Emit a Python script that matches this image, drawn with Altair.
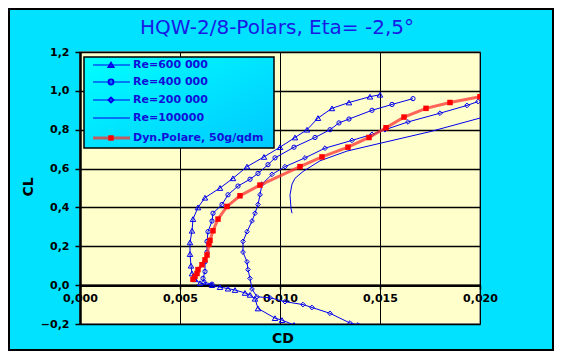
import altair as alt
import pandas as pd

# ---------------- data ----------------
re600_cd = [0.0150, 0.0145, 0.01345, 0.0126, 0.0119, 0.01135, 0.01075, 0.0100, 0.0092,
            0.00835, 0.00765, 0.0070, 0.00625, 0.0059, 0.00565, 0.0056, 0.0055, 0.0055,
            0.00555, 0.0056, 0.00575, 0.0060, 0.0066, 0.0070, 0.0074, 0.00775, 0.00825,
            0.0085, 0.00875, 0.0089, 0.00975, 0.0101, 0.0107]
re600_cl = [0.98, 0.97, 0.94, 0.91, 0.86, 0.80, 0.76, 0.71, 0.66,
            0.61, 0.55, 0.50, 0.45, 0.40, 0.34, 0.28, 0.22, 0.16,
            0.10, 0.06, 0.03, 0.01, 0.00, -0.01, -0.018, -0.025, -0.04,
            -0.05, -0.07, -0.12, -0.17, -0.18, -0.205]

re400_cd = [0.01665, 0.0156, 0.0146, 0.01345, 0.01295, 0.0125, 0.01175, 0.0107, 0.00975,
            0.0094, 0.0089, 0.0085, 0.0079, 0.0074, 0.0071, 0.00665, 0.0066, 0.0064,
            0.00635, 0.00635, 0.00625, 0.00625, 0.00615, 0.0062, 0.0066]
re400_cl = [0.96, 0.93, 0.90, 0.855, 0.835, 0.80, 0.76, 0.71, 0.655,
            0.62, 0.575, 0.545, 0.51, 0.465, 0.415, 0.37, 0.33, 0.275,
            0.225, 0.17, 0.12, 0.07, 0.035, 0.015, 0.005]

re200_cd = [0.0199, 0.01935, 0.0180, 0.0164, 0.01525, 0.0146, 0.0136, 0.01225, 0.01125,
            0.01025, 0.0096, 0.0091, 0.0090, 0.0089, 0.00875, 0.0086, 0.00835, 0.00815,
            0.00815, 0.00835, 0.0084, 0.0085, 0.0086, 0.00885, 0.0095, 0.01025, 0.01115,
            0.0116, 0.0125, 0.0135, 0.0139]
re200_cl = [0.945, 0.925, 0.885, 0.84, 0.80, 0.776, 0.745, 0.705, 0.655,
            0.61, 0.57, 0.52, 0.465, 0.415, 0.37, 0.33, 0.275, 0.225,
            0.17, 0.12, 0.08, 0.035, -0.02, -0.06, -0.065, -0.085, -0.10,
            -0.115, -0.145, -0.195, -0.205]

re100_cd = [0.0200, 0.0175, 0.0150, 0.01335, 0.0120, 0.01115, 0.01075, 0.0106, 0.0105,
            0.01055, 0.0106]
re100_cl = [0.86, 0.79, 0.73, 0.69, 0.64, 0.585, 0.55, 0.52, 0.465, 0.395, 0.37]

dyn_cd = [0.0200, 0.0185, 0.0173, 0.0162, 0.0153, 0.01445, 0.0134, 0.0121, 0.0110,
          0.0090, 0.0080, 0.00735, 0.0069, 0.00665, 0.0065, 0.00645, 0.00635, 0.00625,
          0.0061, 0.0059, 0.00585, 0.00575, 0.00565]
dyn_cl = [0.97, 0.94, 0.91, 0.865, 0.81, 0.76, 0.71, 0.66, 0.61,
          0.515, 0.46, 0.405, 0.34, 0.28, 0.23, 0.21, 0.155, 0.13,
          0.105, 0.08, 0.06, 0.045, 0.03]

legend_labels = ["Re=600 000", "Re=400 000", "Re=200 000", "Re=100000", "Dyn.Polare, 50g/qdm"]
x_ticks = [0.0, 0.005, 0.010, 0.015, 0.020]
y_ticks = [-0.2, 0.0, 0.2, 0.4, 0.6, 0.8, 1.0, 1.2]
x_range = [0.0, 0.02]
y_range = [-0.2, 1.2]
title_text = "HQW-2/8-Polars, Eta= -2,5°"

# ---------------- layout ----------------
W, H = 400, 272
PAD = {"left": 72, "top": 44, "right": 74, "bottom": 27}
FONT = "DejaVu Sans"
BLUE = "#0000EE"
RED = "#FF0000"

xs = alt.Scale(domain=x_range, nice=False, zero=False)
ys = alt.Scale(domain=y_range, nice=False, zero=False)

x_axis = alt.Axis(values=x_ticks, grid=True, gridColor="black", gridWidth=1, gridOpacity=1,
                  orient="bottom", offset=-(0.2 / 1.4) * H,
                  labelExpr="replace(format(datum.value, '.3f'), '.', ',')", labelFlush=False,
                  domainColor="black", domainWidth=2.5, tickColor="black", tickWidth=1.5, tickSize=4,
                  labelFont=FONT, labelFontWeight="bold", labelFontSize=11, labelColor="black",
                  labelPadding=3, title=None)
y_axis = alt.Axis(values=y_ticks, grid=True, gridColor="black", gridWidth=1.5, gridOpacity=1,
                  orient="left",
                  labelExpr="replace(format(datum.value, '.1f'), '.', ',')", labelFlush=False,
                  domainColor="black", domainWidth=2.5, tickColor="black", tickWidth=1.5, tickSize=5,
                  labelFont=FONT, labelFontWeight="bold", labelFontSize=11, labelColor="black",
                  labelPadding=6, title=None)

one = pd.DataFrame({"a": [0]})

cyan_grad = alt.LinearGradient(
    gradient="linear",
    stops=[alt.GradientStop(color="#00FFFF", offset=0), alt.GradientStop(color="#00C8FF", offset=1)],
    x1=0, y1=0, x2=1, y2=1)

frame = alt.Chart(one).mark_rect(fillOpacity=0, stroke="black", strokeWidth=2).encode(
    x=alt.value(-71), x2=alt.value(W + 73), y=alt.value(-43), y2=alt.value(H + 26))


def series(cd, cl):
    return pd.DataFrame({"cd": cd, "cl": cl, "i": range(len(cd))})


def line_layer(df, color=BLUE, width=1, **kw):
    return alt.Chart(df).mark_line(color=color, strokeWidth=width, clip=True, **kw).encode(
        x=alt.X("cd:Q", scale=xs, axis=x_axis),
        y=alt.Y("cl:Q", scale=ys, axis=y_axis),
        order="i:Q",
    )


def point_layer(df, shape, size, filled=False, color=BLUE):
    return alt.Chart(df).mark_point(shape=shape, size=size, filled=filled, color=color,
                                    strokeWidth=1, opacity=1, clip=True).encode(
        x=alt.X("cd:Q", scale=xs, axis=x_axis), y=alt.Y("cl:Q", scale=ys, axis=y_axis))


d600 = series(re600_cd, re600_cl)
d400 = series(re400_cd, re400_cl)
d200 = series(re200_cd, re200_cl)
d100 = series(re100_cd, re100_cl)
ddyn = series(dyn_cd, dyn_cl)

data_layers = [
    line_layer(d100),
    line_layer(d600), point_layer(d600, "triangle-up", 30),
    line_layer(d400), point_layer(d400, "circle", 18),
    line_layer(d200), point_layer(d200, "diamond", 22),
    line_layer(ddyn, color="#FF3030", width=3, opacity=0.75),
    point_layer(ddyn, "square", 30, filled=True, color=RED),
]

# ---------------- custom legend ----------------
LX0, LY0, LX1, LY1 = 4, 5, 194, 96
legend_box = alt.Chart(one).mark_rect(fill=cyan_grad, stroke="black", strokeWidth=1.5).encode(
    x=alt.value(LX0), x2=alt.value(LX1), y=alt.value(LY0), y2=alt.value(LY1))
legend_layers = [legend_box]
row_y = [13, 30, 48, 66, 86]
shapes = ["triangle-up", "circle", "diamond", None, "square"]
for lab, ry, shp in zip(legend_labels, row_y, shapes):
    is_dyn = shp == "square"
    legend_layers.append(alt.Chart(one).mark_rule(
        color="#FF3030" if is_dyn else BLUE, strokeWidth=3 if is_dyn else 1,
        opacity=0.75 if is_dyn else 1).encode(
        x=alt.value(13), x2=alt.value(50), y=alt.value(ry)))
    if shp is not None:
        legend_layers.append(alt.Chart(one).mark_point(
            shape=shp, size=30 if is_dyn else 24, filled=is_dyn,
            color=RED if is_dyn else BLUE, opacity=1).encode(
            x=alt.value(31), y=alt.value(ry)))
    legend_layers.append(alt.Chart(one).mark_text(
        text=lab, align="left", baseline="middle", font=FONT, fontWeight="bold",
        fontSize=11, color="#1010D8").encode(x=alt.value(53), y=alt.value(ry)))

# ---------------- titles ----------------
title = alt.Chart(one).mark_text(text=title_text, font=FONT, fontSize=20, color="#1A1AE6",
                                 align="center", baseline="middle").encode(
    x=alt.value(W / 2 - 3), y=alt.value(-24))
xtitle = alt.Chart(one).mark_text(text="CD", font=FONT, fontSize=14, fontWeight="bold",
                                  color="black", align="center", baseline="middle").encode(
    x=alt.value(W / 2 + 3), y=alt.value(H + 15))
ytitle = alt.Chart(one).mark_text(text="CL", font=FONT, fontSize=14, fontWeight="bold",
                                  color="black", align="center", baseline="middle", angle=270).encode(
    x=alt.value(-51), y=alt.value(135))

chart = alt.layer(
    frame, *data_layers, *legend_layers, title, xtitle, ytitle
).properties(
    width=W, height=H,
    autosize=alt.AutoSizeParams(type="none"),
    padding=PAD,
    background="#00E2FF",
).configure_view(fill="#FFFFCC", stroke="#808080", strokeWidth=1.5)

chart.save("out.html", embed_options={"renderer": "svg", "actions": False})
